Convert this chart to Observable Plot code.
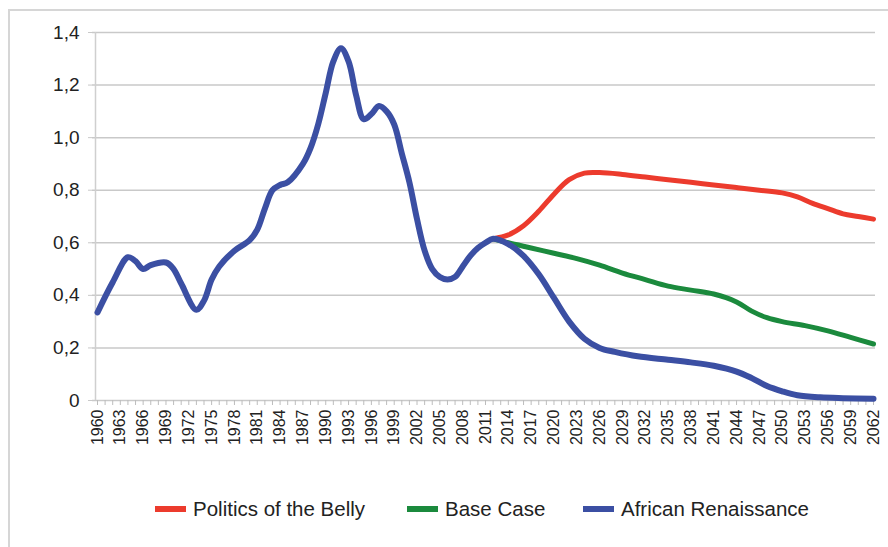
<!DOCTYPE html>
<html>
<head>
<meta charset="utf-8">
<script src="https://cdn.jsdelivr.net/npm/d3@7"></script>
<script src="https://cdn.jsdelivr.net/npm/@observablehq/plot@0.6"></script>
<style>
  html, body { margin: 0; padding: 0; background: #fff; }
  #wrap { position: relative; width: 888px; height: 547px; overflow: hidden; font-family: "Liberation Sans", Arial, sans-serif; }
  #frame { position: absolute; left: 8px; top: 9px; width: 900px; height: 600px; border: 2px solid #d6d6d6; box-sizing: border-box; }
  #chart { position: absolute; left: 0; top: 0; }
  #legend { position: absolute; left: 0; top: 497px; width: 888px; height: 24px; }
  .item { position: absolute; top: 0; display: flex; align-items: center; height: 24px; font-size: 20.5px; color: #222; }
  .sw { width: 31px; height: 6px; margin-right: 7px; }
</style>
</head>
<body>
<div id="wrap">
  <div id="frame"></div>
  <div id="chart"></div>
  <div id="legend"></div>
</div>
<script>
// Series names and colours
const seriesNames = ["Politics of the Belly", "Base Case", "African Renaissance"];
const seriesColors = ["#ec3b2d", "#1b8a3d", "#3b4fa3"];

// African Renaissance (includes the historical part 1960-2012)
const renYears = [1960,1962,1964,1965,1966,1967,1969,1970,1971,1973,1974,1975,1976,1978,1980,1981,1982,1983,1984,1985,1987,1988,1989,1990,1991,1992,1993,1994,1995,1996,1997,1998,1999,2000,2001,2002,2003,2004,2005,2006,2007,2008,2009,2010,2011,2012,2014,2016,2018,2020,2022,2024,2026,2028,2031,2035,2038,2041,2044,2046,2048,2050,2052,2055,2058,2062];
const renValues = [0.335,0.45,0.545,0.53,0.50,0.515,0.525,0.50,0.445,0.345,0.38,0.46,0.51,0.57,0.61,0.65,0.73,0.80,0.82,0.83,0.90,0.96,1.05,1.17,1.29,1.34,1.29,1.16,1.07,1.09,1.12,1.10,1.05,0.94,0.83,0.69,0.57,0.50,0.47,0.46,0.47,0.51,0.55,0.58,0.60,0.615,0.595,0.55,0.48,0.39,0.30,0.235,0.20,0.185,0.168,0.155,0.145,0.132,0.11,0.085,0.055,0.035,0.02,0.012,0.009,0.007];

// Politics of the Belly
const bellyYears = [2012,2014,2016,2018,2020,2022,2024,2026,2029,2032,2035,2038,2041,2044,2047,2050,2052,2054,2056,2058,2060,2062];
const bellyValues = [0.615,0.63,0.665,0.72,0.785,0.84,0.865,0.867,0.86,0.85,0.84,0.83,0.82,0.81,0.80,0.79,0.775,0.75,0.73,0.71,0.70,0.69];

// Base Case
const baseYears = [2012,2014,2017,2020,2023,2026,2029,2032,2035,2038,2041,2044,2046,2048,2050,2053,2056,2059,2062];
const baseValues = [0.615,0.60,0.58,0.56,0.54,0.515,0.485,0.46,0.435,0.42,0.405,0.375,0.34,0.315,0.30,0.285,0.265,0.24,0.215];

// Axis ticks
const yTicks = [0, 0.2, 0.4, 0.6, 0.8, 1.0, 1.2, 1.4];
const yTickLabels = ["0", "0,2", "0,4", "0,6", "0,8", "1,0", "1,2", "1,4"];
const xLabelYears = d3.range(1960, 2063, 3);
const xMinorYears = d3.range(1960, 2063, 1);

const toRows = (name, ys, vs) => ys.map((y, i) => ({series: name, year: y, value: vs[i]}));
const belly = toRows(seriesNames[0], bellyYears, bellyValues);
const base = toRows(seriesNames[1], baseYears, baseValues);
const ren = toRows(seriesNames[2], renYears, renValues);

const W = 888, H = 470;
const chart = Plot.plot({
  width: W,
  height: H,
  marginLeft: 92,
  marginRight: 13,
  marginTop: 32,
  marginBottom: 70,
  style: {fontFamily: "'Liberation Sans', Arial, sans-serif", color: "#222", background: "transparent"},
  x: {domain: [1960, 2062], insetLeft: 5, insetRight: 2, axis: null},
  y: {domain: [0, 1.4], axis: null},
  color: {domain: seriesNames, range: seriesColors},
  marks: [
    Plot.ruleY(yTicks, {stroke: "#c9c9c9", strokeWidth: 1.5}),
    Plot.axisY(yTicks, {tickFormat: d => yTickLabels[yTicks.indexOf(d)], tickSize: 4, tickPadding: 9, stroke: "#c9c9c9", fontSize: 19, fill: "#222", anchor: "left", label: null}),
    Plot.ruleX([1960], {stroke: "#cfcfcf", strokeWidth: 1.5, dx: -2}),
    Plot.axisX(xMinorYears, {tickSize: 5, tickFormat: () => "", stroke: "#bdbdbd", anchor: "bottom", label: null}),
    Plot.axisX(xLabelYears, {tickSize: 0, tickPadding: 9, tickRotate: -90, tickFormat: d => String(d), fontSize: 16, fill: "#222", anchor: "bottom", label: null}),
    Plot.lineY(belly, {x: "year", y: "value", stroke: "series", strokeWidth: 5, curve: "catmull-rom"}),
    Plot.lineY(base, {x: "year", y: "value", stroke: "series", strokeWidth: 5, curve: "catmull-rom"}),
    Plot.lineY(ren, {x: "year", y: "value", stroke: "series", strokeWidth: 6, curve: "catmull-rom"})
  ]
});
document.getElementById("chart").appendChild(chart);

// Legend
const legendLefts = [155, 407, 583];
const legend = document.getElementById("legend");
seriesNames.forEach((name, i) => {
  const item = document.createElement("div");
  item.className = "item";
  item.style.left = legendLefts[i] + "px";
  const sw = document.createElement("span");
  sw.className = "sw";
  sw.style.background = seriesColors[i];
  const tx = document.createElement("span");
  tx.textContent = name;
  item.appendChild(sw);
  item.appendChild(tx);
  legend.appendChild(item);
});
</script>
</body>
</html>
